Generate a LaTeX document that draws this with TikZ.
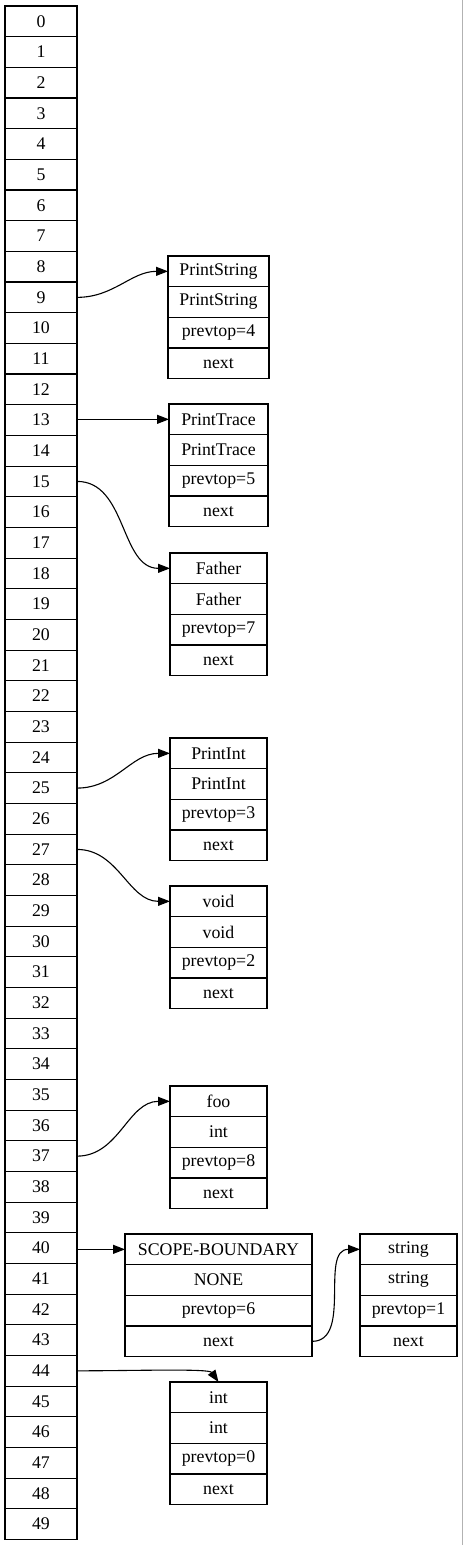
\documentclass[tikz,border=0pt]{standalone}
\usepackage{fontspec}
\setmainfont{Liberation Serif}
\usetikzlibrary{positioning,arrows.meta}

\tikzset{
  cell/.style={draw, rectangle, line width=1.1pt, minimum width=72pt, minimum height=30.67pt,
    inner sep=0pt, outer sep=0pt, font=\fontsize{17.8}{20}\selectfont},
  fld/.style={cell, anchor=north},
  link/.style={-{Triangle[length=12pt,width=9pt]}, line width=1.1pt},
}

\begin{document}
\begin{tikzpicture}[x=1pt,y=1pt]
        \useasboundingbox (0,0) rectangle (463,-1545);
        \draw[gray!60, line width=1pt] (462.5,0) -- (462.5,-1545);
        % stack slots
        \foreach \i in {0,...,49}
            \node[cell] (c\i) at (41, {-6-30.67*(\i+0.5)}) {\i};
        % records
        \foreach \nm/\x/\y/\w/\a/\b/\p in {ps/218.5/256/101/PrintString/PrintString/4,
                pt/218.5/404/99/PrintTrace/PrintTrace/5,
                fa/218.5/553/97/Father/Father/7,
                pi/218.5/738/97/PrintInt/PrintInt/3,
                vo/218.5/886/97/void/void/2,
                fo/218.5/1086/97/foo/int/8,
                sb/218.5/1234/187/SCOPE-BOUNDARY/NONE/6,
                st/408.5/1234/97/string/string/1,
                in/218.5/1382/97/int/int/0} {
            \node[fld, minimum width=\w] (\nm1) at (\x,-\y) {\a};
            \node[fld, minimum width=\w] (\nm2) at (\nm1.south) {\b};
            \node[fld, minimum width=\w] (\nm3) at (\nm2.south) {prevtop=\p};
            \node[fld, minimum width=\w] (\nm4) at (\nm3.south) {next};
        }
        % links
        \draw[link] (c9.east) to[out=0,in=180] (ps1.west);
        \draw[link] (c13.east |- pt1.west) -- (pt1.west);
        \draw[link] (c15.east) to[out=0,in=180] (fa1.west);
        \draw[link] (c25.east) to[out=0,in=180] (pi1.west);
        \draw[link] (c27.east) to[out=0,in=180] (vo1.west);
        \draw[link] (c37.east) to[out=0,in=180] (fo1.west);
        \draw[link] (c40.east |- sb1.west) -- (sb1.west);
        \draw[link] (sb4.east) to[out=0,in=180] (st1.west);
        \draw[link] (c44.east) to[out=0,in=125,out looseness=1,in looseness=0.3] (in1.north);
    \end{tikzpicture}
\end{document}
